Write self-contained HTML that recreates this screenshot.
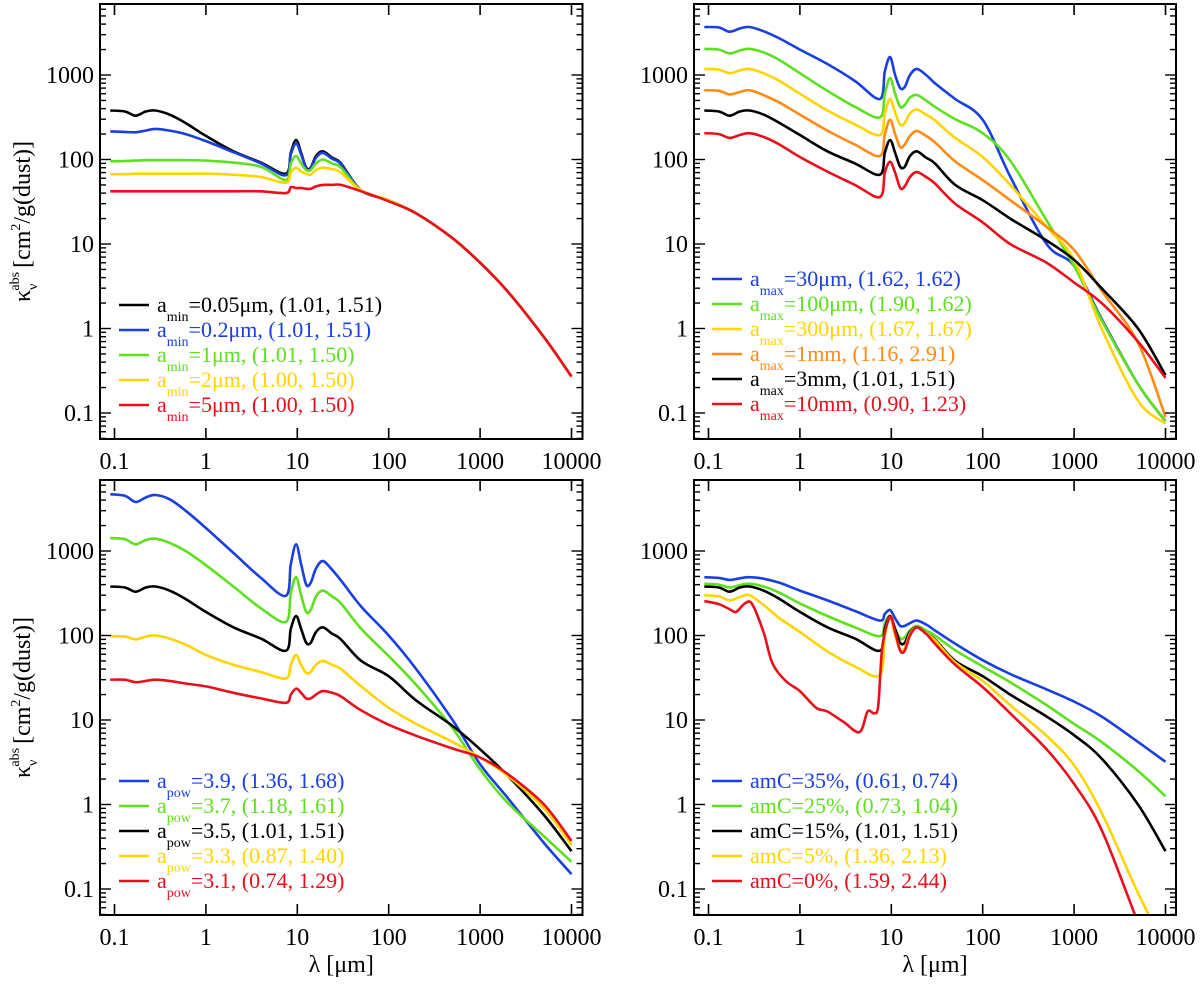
<!DOCTYPE html>
<html><head><meta charset="utf-8">
<style>
html,body{margin:0;padding:0;background:#fff;}
svg text{font-family:"Liberation Serif",serif;}
</style></head>
<body>
<svg id="fig" width="1200" height="979" viewBox="0 0 1200 979" xmlns="http://www.w3.org/2000/svg"></svg>
<script>
// ---- data ----
const lamGrid = [0.09,0.13,0.17,0.22,0.28,0.4,0.6,1,2,4,7.5,8.5,9.7,11,12.5,14,16,19,24,30,50,100,200,500,1000,2000,5000,10000];
const xTickLabels = ["0.1","1","10","100","1000","10000"];
const yTickLabels = ["0.1","1","10","100","1000"];
// panel 1: a_min
const aminBlack = [380,370,330,370,380,340,270,190,125,92,68,120,170,120,80,80,110,125,105,90,43,33,23,11.7,6,2.75,0.79,0.27];
const aminBlue = [215,212,210,220,230,220,200,165,122,90,65,115,155,115,78,78,105,120,102,88,43,33,23,11.7,6,2.75,0.79,0.27];
const aminGreen = [95,96,97,98,98,98,98,97,92,82,57,90,110,90,75,75,90,100,90,80,43,33,23,11.7,6,2.75,0.79,0.27];
const aminYellow = [67,67,68,68,68,68,68,68,66,62,53,70,80,72,68,66,75,80,77,70,43,33,23,11.7,6,2.75,0.79,0.27];
const aminRed = [42,42,42,42,42,42,42,42,42,42,40,47,46,46,45,45,48,50,50,50,42,32,23,11.7,6,2.75,0.79,0.27];
// panel 2: a_max
const amaxBlue = [3700,3650,3250,3550,3700,3300,2700,2000,1350,850,520,1100,1630,1000,700,720,1000,1180,1000,800,520,295,63,10,5.5,1.3,0.22,0.08];
const amaxGreen = [2040,2000,1800,1950,2040,1850,1500,1050,650,420,316,600,920,600,420,440,540,580,500,420,300,205,97,19,5.5,1.25,0.22,0.08];
const amaxYellow = [1180,1160,1050,1130,1180,1050,850,600,380,260,195,350,520,360,257,270,350,390,340,290,180,107,50,16,6.5,1.0,0.14,0.075];
const amaxOrange = [660,650,590,630,660,580,470,340,220,150,110,200,295,200,140,150,190,218,190,160,95,57,33,16,8.5,2.8,0.68,0.09];
const amaxBlack = [380,370,330,370,380,340,270,195,125,90,66,120,170,120,82,82,110,125,105,90,50,33,20,11,6.5,3.0,1.0,0.28];
const amaxRed = [205,200,180,195,205,185,150,107,72,50,36,70,94,70,46,48,62,71,62,52,30,18,10,6,3.5,2,0.7,0.26];
// panel 3: a_pow
const apowBlue = [4700,4500,3800,4300,4600,4100,3000,1870,950,480,295,700,1200,700,400,420,620,760,600,450,220,100,40,10,3,1.2,0.35,0.15];
const apowGreen = [1420,1380,1200,1350,1400,1250,1000,680,380,210,145,320,490,300,190,200,290,340,290,240,120,57,26,8,2.6,1.05,0.42,0.21];
const apowBlack = [380,370,330,370,380,340,270,190,125,92,66,120,170,120,82,82,110,125,105,90,50,33,17,8.5,4.5,2.2,0.75,0.28];
const apowYellow = [98,97,90,97,100,92,78,59,45,37,31,45,59,45,36,37,45,50,45,40,25,14,9,5.5,3.6,2.2,0.9,0.33];
const apowRed = [30,30,28,29,30,29,27,25,21,18,16,20,23.5,21,18,18,20,22,21,19,13,8.8,6.5,4.6,3.6,2.3,1.0,0.37];
// panel 4: amC
const amcBlue = [490,480,455,475,490,470,420,340,260,195,150,180,200,160,130,130,140,150,135,115,80,51,35,23,16.5,11,5.5,3.2];
const amcGreen = [410,400,370,395,410,380,320,240,170,125,98,140,170,120,93,95,115,130,115,100,67,43,28,15,9,5.5,2.5,1.25];
const amcBlack = [380,370,330,370,380,340,270,190,125,92,66,120,170,120,82,82,110,125,105,90,50,33,20,11,6.6,3.5,1.0,0.28];
const amcYellow = [300,290,260,285,300,230,160,110,65,43,34,100,165,100,68,70,105,125,105,88,48,29,15,6.5,2.9,0.8,0.09,0.02];
const lamRed0 = [0.09,0.13,0.17,0.2,0.25,0.3,0.4,0.5,0.7,1,1.5,2,3,4.5,5.5,6.5,7.2,8,9.7,11,12.5,14,16,19,24,30,50,100,200,500,1000,2000,5000,10000];
const amcRed = [255,235,205,190,240,235,110,47,29,22,14,12.6,9.5,7.2,12.6,12,15,75,165,110,66,66,100,125,105,80,45,24.5,12,4.5,1.75,0.5,0.04,0.006];

const C = {blue:"#1a3fe0",green:"#5ee01e",yellow:"#ffd400",orange:"#ff8a14",black:"#000",red:"#e8101c"};

const panels = [
 {name:"amin",x0:100,x1:582.5,y0:4,y1:439,xt:114.5,yt:75,
  series:[[aminBlack,"black"],[aminBlue,"blue"],[aminGreen,"green"],[aminYellow,"yellow"],[aminRed,"red"]],
  legend:{x:119,y:305,sub:"min",rows:[["black","=0.05μm, (1.01, 1.51)"],["blue","=0.2μm, (1.01, 1.51)"],["green","=1μm, (1.01, 1.50)"],["yellow","=2μm, (1.00, 1.50)"],["red","=5μm, (1.00, 1.50)"]]},ytitle:true},
 {name:"amax",x0:694,x1:1176,y0:4,y1:439,xt:708.5,yt:75,
  series:[[amaxBlue,"blue"],[amaxGreen,"green"],[amaxYellow,"yellow"],[amaxOrange,"orange"],[amaxBlack,"black"],[amaxRed,"red"]],
  legend:{x:712,y:279,sub:"max",rows:[["blue","=30μm, (1.62, 1.62)"],["green","=100μm, (1.90, 1.62)"],["yellow","=300μm, (1.67, 1.67)"],["orange","=1mm, (1.16, 2.91)"],["black","=3mm, (1.01, 1.51)"],["red","=10mm, (0.90, 1.23)"]]}},
 {name:"apow",x0:100,x1:582.5,y0:480,y1:915,xt:114.5,yt:551,
  series:[[apowBlue,"blue"],[apowGreen,"green"],[apowBlack,"black"],[apowYellow,"yellow"],[apowRed,"red"]],
  legend:{x:119,y:781,sub:"pow",rows:[["blue","=3.9, (1.36, 1.68)"],["green","=3.7, (1.18, 1.61)"],["black","=3.5, (1.01, 1.51)"],["yellow","=3.3, (0.87, 1.40)"],["red","=3.1, (0.74, 1.29)"]]},ytitle:true,xtitle:true},
 {name:"amc",x0:694,x1:1176,y0:480,y1:915,xt:708.5,yt:551,
  series:[[amcBlue,"blue"],[amcGreen,"green"],[amcBlack,"black"],[amcYellow,"yellow"],[amcRed,"red",lamRed0]],
  legend:{x:712,y:781,sub:null,rows:[["blue","amC=35%, (0.61, 0.74)"],["green","amC=25%, (0.73, 1.04)"],["black","amC=15%, (1.01, 1.51)"],["yellow","amC=5%, (1.36, 2.13)"],["red","amC=0%, (1.59, 2.44)"]]},xtitle:true}
];
const DX = 91.4, DY = 84.5;
const NS = "http://www.w3.org/2000/svg";
const svg = document.getElementById("fig");
function mk(tag, attrs, parent){const e=document.createElementNS(NS,tag);for(const k in attrs)e.setAttribute(k,attrs[k]);(parent||svg).appendChild(e);return e;}

panels.forEach((p,pi)=>{
  const g = mk("g",{});
  
  
  const xs = l => p.xt + (Math.log10(l)+1)*DX;
  const ys = v => p.yt - (Math.log10(v)-3)*DY;
  const cid = "clip"+pi;
  const cp = mk("clipPath",{id:cid},g);
  mk("rect",{x:p.x0,y:p.y0,width:p.x1-p.x0,height:p.y1-p.y0},cp);
  p.series.forEach(([vals,col,lam])=>{
    const L = lam||lamGrid;
    const pts = L.map((l,i)=>[xs(l),ys(vals[i])]);
    let d = "M"+pts[0][0].toFixed(1)+","+pts[0][1].toFixed(1);
    for(let i=0;i<pts.length-1;i++){
      const p0=pts[Math.max(0,i-1)],p1=pts[i],p2=pts[i+1],p3=pts[Math.min(pts.length-1,i+2)];
      const c1=[p1[0]+(p2[0]-p0[0])/6,p1[1]+(p2[1]-p0[1])/6];
      const c2=[p2[0]-(p3[0]-p1[0])/6,p2[1]-(p3[1]-p1[1])/6];
      d+=" C"+c1[0].toFixed(1)+","+c1[1].toFixed(1)+" "+c2[0].toFixed(1)+","+c2[1].toFixed(1)+" "+p2[0].toFixed(1)+","+p2[1].toFixed(1);
    }
    const path = mk("path",{d:d,fill:"none",stroke:C[col],"stroke-width":2.6,"clip-path":"url(#"+cid+")","stroke-linejoin":"round"},g);
    
    
  });
  const fr = mk("rect",{x:p.x0,y:p.y0,width:p.x1-p.x0,height:p.y1-p.y0,fill:"none",stroke:"#000","stroke-width":2},g);
  
  
  xTickLabels.forEach((lab,i)=>{
    const x = xs(parseFloat(lab));
    mk("line",{x1:x,x2:x,y1:p.y1,y2:p.y1-11,stroke:"#000","stroke-width":1.6},g);
    mk("line",{x1:x,x2:x,y1:p.y0,y2:p.y0+11,stroke:"#000","stroke-width":1.6},g);
    const t = mk("text",{x:x,y:p.y1+30,"font-size":24,"text-anchor":"middle"},g);
    t.textContent = lab;
    
    
  });
  for(let e=-2;e<=3;e++){
    for(let m=1;m<10;m++){
      const v = m*Math.pow(10,e);
      const y = ys(v);
      if(y<p.y0+0.5||y>p.y1-0.5) continue;
      const len = m===1?11:6;
      mk("line",{x1:p.x0,x2:p.x0+len,y1:y,y2:y,stroke:"#000","stroke-width":1.4},g);
      mk("line",{x1:p.x1,x2:p.x1-len,y1:y,y2:y,stroke:"#000","stroke-width":1.4},g);
    }
  }
  yTickLabels.forEach(lab=>{
    const y = ys(parseFloat(lab));
    const t = mk("text",{x:p.x0-6,y:y+8,"font-size":24,"text-anchor":"end"},g);
    t.textContent = lab;
    
    
  });
  p.legend.rows.forEach((r,i)=>{
    const y = p.legend.y + i*25;
    const lg = mk("g",{},g);
    
    
    mk("line",{x1:p.legend.x,x2:p.legend.x+30,y1:y,y2:y,stroke:C[r[0]],"stroke-width":2.6},lg);
    const t = mk("text",{x:p.legend.x+38,y:y+7,"font-size":22,fill:C[r[0]]},lg);
    if(p.legend.sub){
      const a = mk("tspan",{},t); a.textContent="a";
      const s = mk("tspan",{"font-size":14,dy:9},t); s.textContent=p.legend.sub;
      const rest = mk("tspan",{dy:-9},t); rest.textContent=r[1];
    } else t.textContent = r[1];
  });
  if(p.ytitle){
    const cy = (p.y0+p.y1)/2;
    const t = mk("text",{x:0,y:0,"font-size":24,"text-anchor":"middle",transform:"translate(30,"+cy+") rotate(-90)"},g);
    
    
    const k = mk("tspan",{},t); k.textContent="κ";
    const s1 = mk("tspan",{"font-size":14,dy:7},t); s1.textContent="ν";
    const s2 = mk("tspan",{"font-size":14,dy:-18,dx:-7},t); s2.textContent="abs";
    const r1 = mk("tspan",{dy:11,dx:4},t); r1.textContent="[cm";
    const r2 = mk("tspan",{"font-size":14,dy:-10},t); r2.textContent="2";
    const r3 = mk("tspan",{dy:10},t); r3.textContent="/g(dust)]";
  }
  if(p.xtitle){
    const t = mk("text",{x:(p.x0+p.x1)/2,y:972,"font-size":24,"text-anchor":"middle"},g);
    t.textContent = "λ [μm]";
    
    
  }
});
</script>
</body></html>
